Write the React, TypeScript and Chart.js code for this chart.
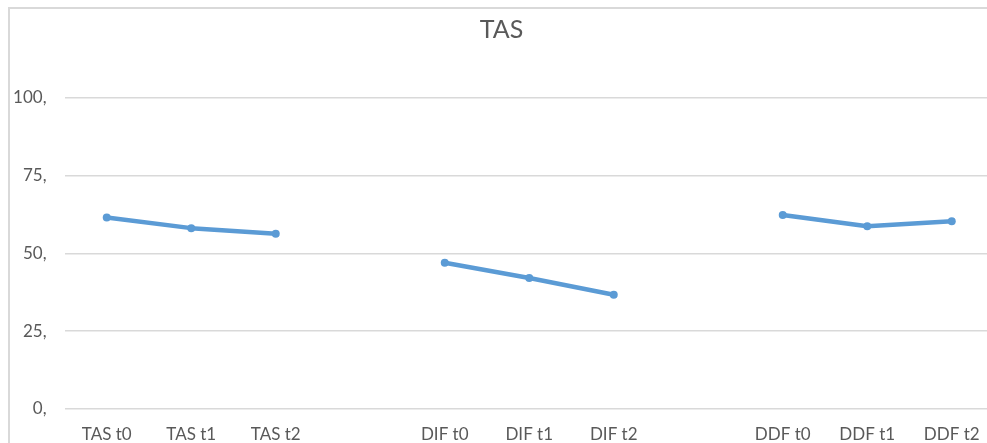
import React, { useEffect, useRef } from "react";
import { Chart, registerables } from "chart.js";

Chart.register(...registerables);

const chartTitle = "TAS";
const tasLabels = ["TAS t0", "TAS t1", "TAS t2"];
const difLabels = ["DIF t0", "DIF t1", "DIF t2"];
const ddfLabels = ["DDF t0", "DDF t1", "DDF t2"];
const tasValues = [61.5, 58.1, 56.3];
const difValues = [47.0, 42.1, 36.7];
const ddfValues = [62.3, 58.7, 60.3];
const yTicks = [0, 25, 50, 75, 100];

const labels = [...tasLabels, "", ...difLabels, "", ...ddfLabels];
const values: (number | null)[] = [...tasValues, null, ...difValues, null, ...ddfValues];

export default function App() {
  const ref = useRef<HTMLCanvasElement | null>(null);
  useEffect(() => {
    if (!ref.current) return;
    const font = { family: "Lato", size: 17 };
    const chart = new Chart(ref.current, {
      type: "line",
      data: {
        labels,
        datasets: [
          {
            data: values,
            borderColor: "#5B9BD5",
            backgroundColor: "#5B9BD5",
            borderWidth: 4.5,
            pointRadius: 4,
            pointBorderWidth: 0,
            pointBackgroundColor: "#5B9BD5",
            borderCapStyle: "round",
            borderJoinStyle: "round",
            tension: 0,
            spanGaps: false,
          },
        ],
      },
      options: {
        animation: false,
        responsive: false,
        maintainAspectRatio: false,
        layout: { padding: { left: 0, right: 3, top: 0, bottom: 0 } },
        plugins: {
          legend: { display: false },
          tooltip: { enabled: false },
          title: {
            display: true,
            text: chartTitle,
            color: "#595959",
            font: { family: "Lato", size: 25, weight: "normal" },
            padding: { top: 7, bottom: 6 },
          },
        },
        scales: {
          x: {
            offset: true,
            grid: { display: false, drawTicks: false, offset: true },
            border: { display: false },
            ticks: { color: "#595959", font, padding: 15, maxRotation: 0, autoSkip: false },
            afterFit: (s: any) => {
              s.height = 35;
            },
          },
          y: {
            min: 0,
            max: 115,
            grid: { color: "#d9d9d9", lineWidth: 1.5, drawTicks: false },
            border: { display: false },
            ticks: {
              stepSize: 25,
              color: "#595959",
              font,
              padding: 18,
              callback: (v: any) => v + ",",
            },
            afterBuildTicks: (s: any) => {
              s.ticks = yTicks.map((v) => ({ value: v }));
            },
            afterFit: (s: any) => {
              s.width = 56.5;
            },
          },
        },
      },
    });
    return () => chart.destroy();
  }, []);
  return (
    <div
      style={{
        position: "fixed",
        left: 8,
        top: 7,
        width: 979,
        height: 436,
        overflow: "hidden",
      }}
    >
      <div
        style={{
          position: "absolute",
          left: 0,
          top: 0,
          width: 1010,
          height: 470,
          borderLeft: "2px solid #d9d9d9",
          borderTop: "2px solid #d9d9d9",
          boxSizing: "border-box",
        }}
      />
      <canvas
        ref={ref}
        width={990}
        height={436}
        style={{ position: "absolute", left: 0, top: 1, width: 990, height: 436 }}
      />
    </div>
  );
}
